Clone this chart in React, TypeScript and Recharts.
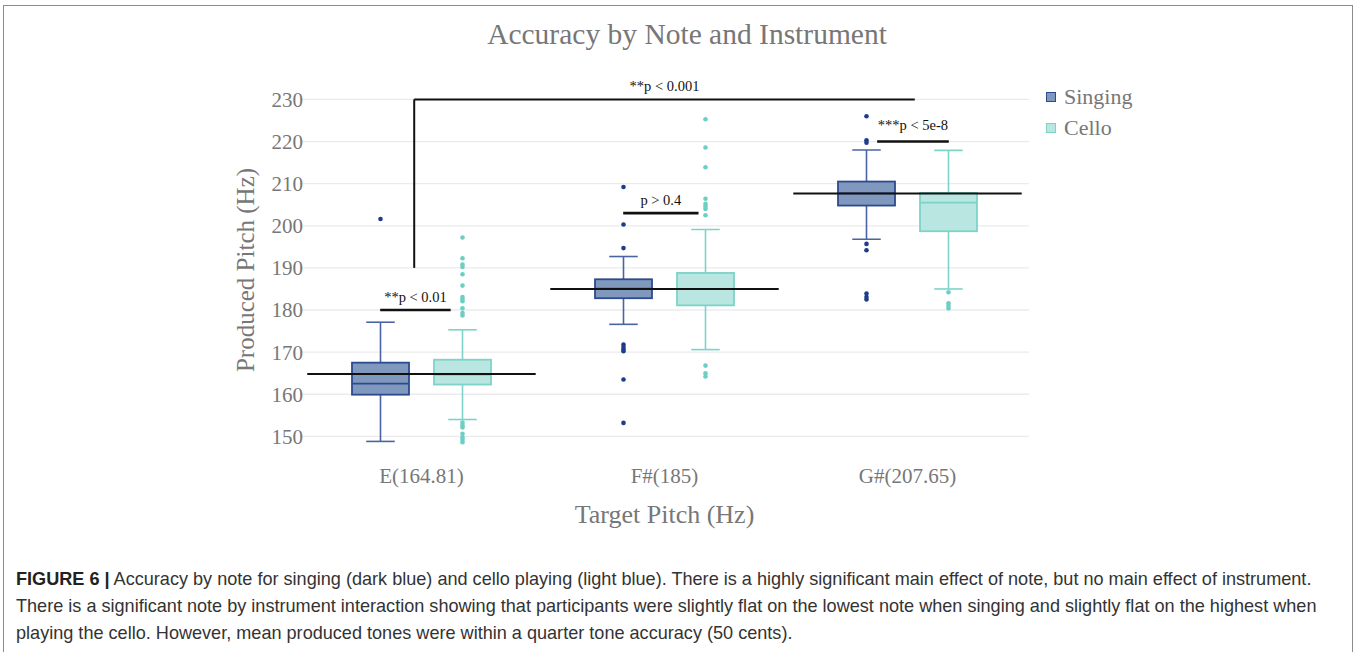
import {
  ComposedChart,
  Bar,
  XAxis,
  YAxis,
  CartesianGrid,
  ReferenceLine,
  Legend,
} from "recharts";

const notes = ["E(164.81)", "F#(185)", "G#(207.65)"];
const targets = [164.81, 185, 207.65];
const yTicks = [150, 160, 170, 180, 190, 200, 210, 220, 230];

// singing (dark blue)
const singingMin = [148.8, 176.6, 196.8];
const singingQ1 = [159.9, 182.8, 204.8];
const singingMedian = [162.5, 185.1, 207.7];
const singingQ3 = [167.5, 187.3, 210.5];
const singingMax = [177.1, 192.7, 218.0];
const singingOutliers = [
  [201.6],
  [209.2, 200.3, 194.7, 171.8, 171.2, 170.7, 170.2, 163.5, 153.2],
  [226.0, 220.3, 219.7, 195.7, 194.2, 183.9, 183.1, 182.5],
];

// cello (light blue)
const celloMin = [154.0, 170.6, 185.0];
const celloQ1 = [162.3, 181.1, 198.7];
const celloMedian = [164.6, 185.0, 205.5];
const celloQ3 = [168.2, 188.8, 207.8];
const celloMax = [175.3, 199.1, 217.9];
const celloOutliers = [
  [197.2, 192.3, 190.8, 190.2, 188.5, 185.8, 183.1, 182.6, 182.1, 180.4, 179.3, 178.7,
    153.3, 152.6, 152.1, 150.6, 149.8, 149.2, 148.6],
  [225.3, 218.6, 213.9, 206.4, 205.2, 204.6, 204.0, 202.5, 166.8, 165.0, 164.2],
  [184.2, 181.6, 181.0, 180.4],
];

// significance brackets, x in note-index units
const brackets = [
  { label: "**p < 0.01", x1: -0.17, x2: 0.12, y: 180, offset: 8 },
  { label: "p > 0.4", x1: 0.83, x2: 1.14, y: 203, offset: 8 },
  { label: "***p < 5e-8", x1: 1.875, x2: 2.17, y: 220, offset: 12 },
];
const mainBracket = { label: "**p < 0.001", x1: -0.03, x2: 2.03, yLow: 190, yHigh: 230 };

const serif = '"Liberation Serif", "DejaVu Serif", serif';
const grey = "#777";

const SING = { fill: "#8098bd", stroke: "#2c4b8e", whisker: "#4864a2", dot: "#1d3d8b" };
const CELLO = { fill: "#b9e6e0", stroke: "#7dd3c8", whisker: "#7dd3c8", dot: "#6ccfc3" };

const rows = notes.map((note, i) => ({
  note,
  idx: i,
  singing: [singingQ1[i], singingQ3[i]],
  cello: [celloQ1[i], celloQ3[i]],
  singingStats: {
    min: singingMin[i], q1: singingQ1[i], median: singingMedian[i],
    q3: singingQ3[i], max: singingMax[i], outliers: singingOutliers[i],
  },
  celloStats: {
    min: celloMin[i], q1: celloQ1[i], median: celloMedian[i],
    q3: celloQ3[i], max: celloMax[i], outliers: celloOutliers[i],
  },
}));

function boxShape(key: "singingStats" | "celloStats", c: typeof SING) {
  return (props: any) => {
    const { x, y, width, height, payload } = props;
    const s = payload[key];
    const top = Math.min(y, y + height);
    const h = Math.abs(height);
    const ppu = h / (s.q3 - s.q1);
    const toY = (v: number) => top + (s.q3 - v) * ppu;
    const cx = x + width / 2;
    const cap = width / 4;
    return (
      <g>
        <line x1={cx} x2={cx} y1={toY(s.max)} y2={top} stroke={c.whisker} strokeWidth={1.6} />
        <line x1={cx} x2={cx} y1={top + h} y2={toY(s.min)} stroke={c.whisker} strokeWidth={1.6} />
        <line x1={cx - cap} x2={cx + cap} y1={toY(s.max)} y2={toY(s.max)} stroke={c.whisker} strokeWidth={1.6} />
        <line x1={cx - cap} x2={cx + cap} y1={toY(s.min)} y2={toY(s.min)} stroke={c.whisker} strokeWidth={1.6} />
        <rect x={x} y={top} width={width} height={h} fill={c.fill} stroke={c.stroke} strokeWidth={1.8} />
        <line x1={x} x2={x + width} y1={toY(s.median)} y2={toY(s.median)} stroke={c.stroke} strokeWidth={1.8} />
        {s.outliers.map((v: number, i: number) => (
          <circle key={i} cx={cx} cy={toY(v)} r={2.3} fill={c.dot} />
        ))}
      </g>
    );
  };
}

const legendItems = [
  { name: "Singing", c: SING },
  { name: "Cello", c: CELLO },
];

function LegendContent() {
  return (
    <div style={{ fontFamily: serif, fontSize: 22, color: grey }}>
      {legendItems.map((it) => (
        <div key={it.name} style={{ display: "flex", alignItems: "center", height: 31 }}>
          <span
            style={{
              display: "inline-block",
              width: 8,
              height: 8,
              background: it.c.fill,
              border: `1.5px solid ${it.c.stroke}`,
              marginRight: 8,
            }}
          />
          {it.name}
        </div>
      ))}
    </div>
  );
}

export default function App() {
  const labelStyle = { fill: "#111", fontSize: 14.5, fontFamily: serif };
  return (
    <div style={{ position: "absolute", left: 0, top: 0, width: 1357, height: 652, background: "#fff", overflow: "hidden" }}>
      <div
        style={{
          position: "absolute",
          left: 3,
          top: 5,
          width: 1350,
          height: 700,
          border: "1.5px solid #8c8c8c",
          boxSizing: "border-box",
        }}
      />
      <div
        style={{
          position: "absolute",
          left: 0,
          width: 1374,
          top: 18,
          textAlign: "center",
          fontFamily: serif,
          fontSize: 29.5,
          color: grey,
        }}
      >
        Accuracy by Note and Instrument
      </div>
      <div style={{ position: "absolute", left: 0, top: 0 }}>
        <ComposedChart
          width={1357}
          height={530}
          data={rows}
          margin={{ top: 91, right: 328, bottom: 1, left: 190 }}
          barSize={57}
          barGap={25}
        >
          <CartesianGrid vertical={false} horizontalValues={yTicks} stroke="#ebebeb" strokeWidth={1.3} />
          <XAxis
            dataKey="note"
            height={80}
            axisLine={false}
            tickLine={false}
            tickSize={0}
            tickMargin={19}
            tick={{ fill: grey, fontSize: 21, fontFamily: serif }}
            label={{
              value: "Target Pitch (Hz)",
              position: "insideBottom",
              offset: 6,
              style: { fill: grey, fontSize: 26, fontFamily: serif },
            }}
          />
          <XAxis
            xAxisId="pos"
            dataKey="idx"
            type="number"
            domain={[-0.5, 2.5]}
            allowDataOverflow
            hide
          />
          <YAxis
            width={110}
            domain={[147, 232]}
            ticks={yTicks}
            allowDataOverflow
            axisLine={false}
            tickLine={false}
            tickSize={0}
            tickMargin={0}
            tick={{ fill: grey, fontSize: 21, fontFamily: serif, dx: 3 }}
            label={{
              value: "Produced Pitch (Hz)",
              angle: -90,
              position: "center",
              style: { fill: grey, fontSize: 25, fontFamily: serif, textAnchor: "middle" },
            }}
          />
          <Legend
            layout="vertical"
            align="center"
            verticalAlign="middle"
            wrapperStyle={{ left: 1046, top: 81, width: 120 }}
            content={<LegendContent />}
          />
          <Bar dataKey="singing" name="Singing" isAnimationActive={false} shape={boxShape("singingStats", SING)} />
          <Bar dataKey="cello" name="Cello" isAnimationActive={false} shape={boxShape("celloStats", CELLO)} />
          {targets.map((t, i) => (
            <ReferenceLine
              key={"t" + i}
              xAxisId="pos"
              ifOverflow="visible"
              segment={[
                { x: i - 0.47, y: t },
                { x: i + 0.47, y: t },
              ]}
              stroke="#111"
              strokeWidth={2}
            />
          ))}
          {brackets.map((b) => (
            <ReferenceLine
              key={b.label}
              xAxisId="pos"
              ifOverflow="visible"
              segment={[
                { x: b.x1, y: b.y },
                { x: b.x2, y: b.y },
              ]}
              stroke="#111"
              strokeWidth={2.6}
              label={{ value: b.label, position: "top", offset: b.offset, ...labelStyle }}
            />
          ))}
          <ReferenceLine
            xAxisId="pos"
            ifOverflow="visible"
            segment={[
              { x: mainBracket.x1, y: mainBracket.yLow },
              { x: mainBracket.x1, y: mainBracket.yHigh },
            ]}
            stroke="#111"
            strokeWidth={2}
          />
          <ReferenceLine
            xAxisId="pos"
            ifOverflow="visible"
            segment={[
              { x: mainBracket.x1, y: mainBracket.yHigh },
              { x: mainBracket.x2, y: mainBracket.yHigh },
            ]}
            stroke="#111"
            strokeWidth={2}
            label={{ value: mainBracket.label, position: "top", offset: 8, ...labelStyle }}
          />
        </ComposedChart>
      </div>
      <div
        style={{
          position: "absolute",
          left: 16,
          top: 566,
          fontFamily: '"Liberation Sans", Arial, sans-serif',
          fontSize: 18.1,
          lineHeight: "27px",
          color: "#333",
          whiteSpace: "nowrap",
        }}
      >
        <div>
          <b style={{ color: "#222" }}>FIGURE 6 |</b> Accuracy by note for singing (dark blue) and cello playing (light
          blue). There is a highly significant main effect of note, but no main effect of instrument.
        </div>
        <div>
          There is a significant note by instrument interaction showing that participants were slightly flat on the
          lowest note when singing and slightly flat on the highest when
        </div>
        <div>playing the cello. However, mean produced tones were within a quarter tone accuracy (50 cents).</div>
      </div>
    </div>
  );
}
